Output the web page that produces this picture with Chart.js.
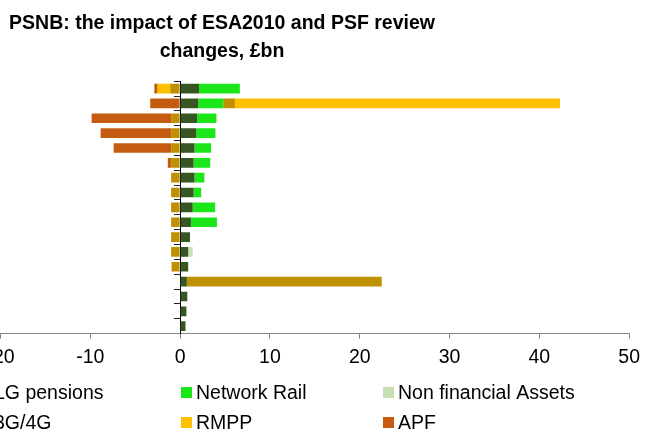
<!DOCTYPE html>
<html>
<head>
<meta charset="utf-8">
<script src="https://cdn.jsdelivr.net/npm/chart.js@4/dist/chart.umd.min.js"></script>
<style>
  html, body { margin: 0; padding: 0; background: #fff; }
  #wrap { position: relative; width: 647px; height: 432px; overflow: hidden; }
  #box { position: absolute; left: -203px; top: 0; width: 850px; height: 432px; }
</style>
</head>
<body>
<div id="wrap"><div id="box"><canvas id="chart"></canvas></div></div>
<script>
// years, newest at the top (labels are cropped off in the source picture)
const years = ['2013-14', '2012-13', '2011-12', '2010-11', '2009-10', '2008-09', '2007-08', '2006-07',
  '2005-06', '2004-05', '2003-04', '2002-03', '2001-02', '2000-01', '1999-00', '1998-99', '1997-98']

const lgPensions = [2.1, 2.0, 1.9, 1.8, 1.6, 1.5, 1.6, 1.5, 1.4, 1.2, 1.1, 0.9, 0.9, 0.75, 0.8, 0.7, 0.6]
const networkRail = [4.55, 2.8, 2.1, 2.1, 1.85, 1.85, 1.1, 0.85, 2.5, 2.9, 0, 0, 0, 0, 0, 0, 0]
const nonFinAssets = [0, 0, 0.15, 0.1, 0, 0, 0, 0, 0, 0, 0, 0.5, 0, 0, 0, 0, 0]
const spectrum = [-1.1, 1.3, -1.0, -1.0, -1.0, -1.0, -1.0, -1.0, -1.0, -1.0, -1.0, -1.0, -0.95, 21.7, 0, 0, 0]
const rmpp = [-1.4, 36.2, 0, 0, 0, 0, 0, 0, 0, 0, 0, 0, 0, 0, 0, 0, 0]
const apf = [-0.37, -3.33, -8.85, -7.85, -6.4, -0.37, 0, 0, 0, 0, 0, 0, 0, 0, 0, 0, 0]

const xTicks = [-20, -10, 0, 10, 20, 30, 40, 50]

const FONT = 'Arial, "Liberation Sans", sans-serif'

// legend in a 3-column grid, the way the source has it
const gridLegend = {
  id: 'gridLegend',
  afterDraw(chart) {
    const ctx = chart.ctx
    const cols = [182, 384, 586]
    const rows = [399, 429]
    ctx.save()
    ctx.font = '19.5px ' + FONT
    ctx.textBaseline = 'alphabetic'
    chart.data.datasets.forEach((ds, i) => {
      const x = cols[i % 3]
      const y = rows[Math.floor(i / 3)]
      ctx.fillStyle = ds.backgroundColor
      ctx.fillRect(x, y - 12, 11, 11)
      ctx.fillStyle = '#000'
      ctx.fillText(ds.label, x + 15, y)
    })
    ctx.restore()
  },
}

function series(label, data, color) {
  return { label, data, backgroundColor: color, borderWidth: 0 }
}

// empty side box, only there to hold room beside the plot
function spacer(position, width) {
  return {
    type: 'category',
    position,
    grid: { display: false },
    border: { display: false },
    ticks: { display: false },
    afterFit: (s) => { s.width = width },
  }
}

new Chart(document.getElementById('chart'), {
  type: 'bar',
  data: {
    labels: years,
    datasets: [
      series('LG pensions', lgPensions, '#375623'),
      series('Network Rail', networkRail, '#1AE61A'),
      series('Non financial Assets', nonFinAssets, '#C6E0B4'),
      series('3G/4G', spectrum, '#BF9000'),
      series('RMPP', rmpp, '#FFC000'),
      series('APF', apf, '#C55A11'),
    ],
  },
  options: {
    indexAxis: 'y',
    responsive: true,
    maintainAspectRatio: false,
    animation: false,
    barPercentage: 0.65,
    categoryPercentage: 1,
    layout: { padding: { left: 0, right: 0, top: 0, bottom: 56 } },
    scales: {
      x: {
        stacked: true,
        min: -20,
        max: 50,
        afterBuildTicks: (s) => { s.ticks = xTicks.map(v => ({ value: v })) },
        grid: { drawOnChartArea: false, tickLength: 5, color: '#868686' },
        border: { color: '#868686' },
        ticks: { color: '#000', padding: 7, font: { family: FONT, size: 19.5 } },
      },
      y: {
        stacked: true,
        position: { x: 0 },
        grid: { drawOnChartArea: false, offset: true, tickLength: 6, color: '#222' },
        border: { color: '#000' },
        ticks: { display: false },
      },
      yLabels: spacer('left', 203.5),
      yRight: spacer('right', 17.5),
    },
    plugins: {
      legend: { display: false },
      tooltip: { enabled: false },
      title: {
        display: true,
        text: ['PSNB: the impact of ESA2010 and PSF review', 'changes, £bn'],
        color: '#000',
        font: { family: FONT, size: 19.5, weight: 'bold', lineHeight: 1.44 },
        padding: { top: 10, bottom: 15 },
      },
    },
  },
  plugins: [gridLegend],
})
</script>
</body>
</html>
